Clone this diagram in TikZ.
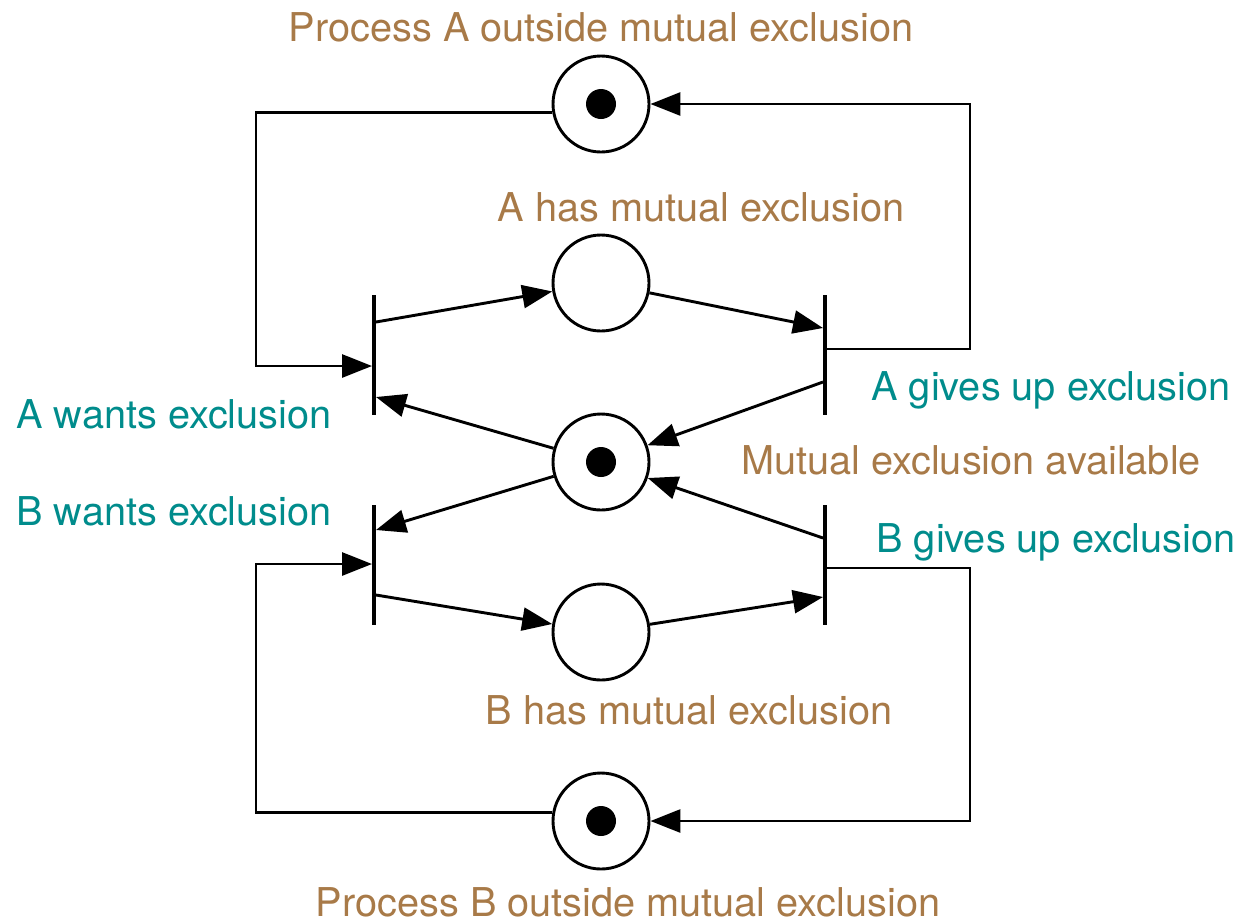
\documentclass[tikz,border=0pt]{standalone}
\usepackage{fontspec}
\setmainfont{TeX Gyre Heros}
\usetikzlibrary{arrows.meta,calc}
\definecolor{placelbl}{RGB}{168,122,72}
\definecolor{translbl}{RGB}{0,140,140}
\begin{document}
\begin{tikzpicture}[x=0.5pt,y=-0.5pt,
  place/.style={circle,draw,line width=1.45pt,minimum size=48pt,inner sep=0pt},
  token/.style={circle,fill,minimum size=15pt,inner sep=0pt},
  bar/.style={rectangle,fill,minimum width=1.6pt,minimum height=60pt,inner sep=0pt},
  arc/.style={line width=1.45pt,-{Triangle[length=15pt,width=11.5pt]}},
  lblfont/.style={font=\fontsize{19.85}{23}\selectfont,anchor=base,inner sep=0pt},
  plbl/.style={lblfont,text=placelbl},
  tlbl/.style={lblfont,text=translbl}]
\useasboundingbox (0,0) rectangle (1245,922);

% places
\node[place] (PA) at (601,104) {};
\node[place] (AH) at (601,283) {};
\node[place] (MX) at (601,462) {};
\node[place] (BH) at (601,632) {};
\node[place] (PB) at (601,821) {};
% tokens
\node[token] (tA) at (PA) {};
\node[token] (tM) at (MX) {};
\node[token] (tB) at (PB) {};

% transitions
\node[bar] (T1) at (374,355) {};
\node[bar] (T2) at (825,355) {};
\node[bar] (T3) at (374,565) {};
\node[bar] (T4) at (825,565) {};

% attachment points on the bars
\coordinate (T1o) at ($(T1.east)+(0,-33)$);
\coordinate (T1l) at ($(T1.west)+(0,11)$);
\coordinate (T1m) at ($(T1.east)+(0,42)$);
\coordinate (T2i) at ($(T2.west)+(0,-27)$);
\coordinate (T2r) at ($(T2.east)+(0,-6)$);
\coordinate (T2m) at ($(T2.west)+(0,27)$);
\coordinate (T3m) at ($(T3.east)+(0,-35)$);
\coordinate (T3l) at ($(T3.west)+(0,-1)$);
\coordinate (T3o) at ($(T3.east)+(0,30)$);
\coordinate (T4m) at ($(T4.west)+(0,-27)$);
\coordinate (T4r) at ($(T4.east)+(0,3)$);
\coordinate (T4i) at ($(T4.west)+(0,32)$);
\coordinate (LX) at (256,0);
\coordinate (RX) at (970,0);

% arcs
\draw[arc] (T1o) -- (AH);
\draw[arc] (AH) -- (T2i);
\draw[arc] (T2m) -- (MX);
\draw[arc] (MX) -- (T1m);
\draw[arc] (MX) -- (T3m);
\draw[arc] (T4m) -- (MX);
\draw[arc] (T3o) -- (BH);
\draw[arc] (BH) -- (T4i);
\draw[arc] (PA.190) -| (LX |- T1l) -- (T1l);
\draw[arc] (T2r) -| (RX |- PA.east) -- (PA.east);
\draw[arc] (T4r) -| (RX |- PB.east) -- (PB.east);
\draw[arc] (PB.170) -| (LX |- T3l) -- (T3l);

% labels
\node[plbl] (lPA) at (601,41) {Process A outside mutual exclusion};
\node[plbl] (lAH) at (701,221) {A has mutual exclusion};
\node[plbl] (lMX) at (971,474) {Mutual exclusion available};
\node[plbl] (lBH) at (689,724) {B has mutual exclusion};
\node[plbl] (lPB) at (628,916) {Process B outside mutual exclusion};
\node[tlbl] (lT1) at (174,428) {A wants exclusion};
\node[tlbl] (lT3) at (174,525) {B wants exclusion};
\node[tlbl] (lT2) at (1051,400) {A gives up exclusion};
\node[tlbl] (lT4) at (1056,552) {B gives up exclusion};
\end{tikzpicture}
\end{document}
